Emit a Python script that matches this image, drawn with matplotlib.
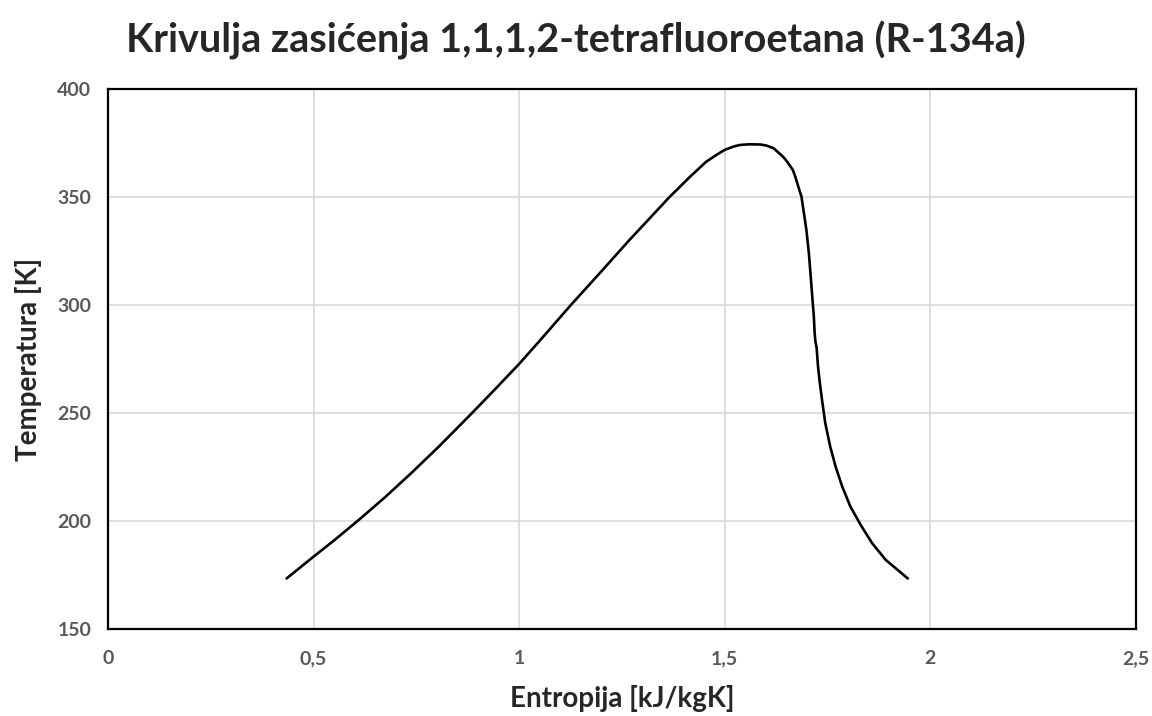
import matplotlib.pyplot as plt
from matplotlib.ticker import FuncFormatter

# zasićena kapljevina (lijeva grana) i para (desna grana), očitano s grafa
s_liquid = [0.435, 0.50, 0.553, 0.61, 0.675, 0.74, 0.805, 0.882, 0.942, 1.0,
            1.036, 1.066, 1.126, 1.196, 1.268, 1.318, 1.366, 1.416, 1.455, 1.481,
            1.50, 1.521, 1.537, 1.561]
T_liquid = [173.5, 183.5, 191.5, 200.5, 211.2, 222.6, 234.5, 249.3, 261.1, 272.7,
            280.4, 286.9, 300.0, 314.7, 330.0, 340.2, 350.0, 359.4, 366.3, 369.6,
            371.8, 373.3, 374.1, 374.4]

s_vapor = [1.587, 1.602, 1.619, 1.642, 1.652, 1.666, 1.672, 1.683, 1.687, 1.699,
           1.705, 1.710, 1.714, 1.717, 1.719, 1.721, 1.724, 1.727, 1.731, 1.737,
           1.745, 1.757, 1.770, 1.786, 1.806, 1.831, 1.859, 1.892, 1.945]
T_vapor = [374.3, 373.8, 372.6, 368.7, 366.4, 362.5, 359.4, 352.5, 350.2, 334.7,
           324.0, 312.0, 302.0, 295.0, 287.0, 283.0, 280.0, 272.0, 265.0, 256.0,
           245.2, 234.4, 225.2, 216.0, 206.7, 198.2, 189.7, 182.0, 173.5]

x_ticks = [0, 0.5, 1, 1.5, 2, 2.5]
y_ticks = [150, 200, 250, 300, 350, 400]

plt.rcParams['font.family'] = ['Lato', 'DejaVu Sans']

fig = plt.figure(figsize=(11.52, 7.16), dpi=100)
ax = fig.add_axes([0.0938, 0.1215, 0.892, 0.7542])

s = s_liquid + s_vapor
T = T_liquid + T_vapor
ax.plot(s, T, color="black", linewidth=1.9, solid_joinstyle="round")

ax.set_xlim(0, 2.5)
ax.set_ylim(150, 400)
ax.set_xticks(x_ticks)
ax.set_yticks(y_ticks)
ax.xaxis.set_major_formatter(FuncFormatter(lambda v, p: ("%g" % v).replace(".", ",")))
ax.grid(True, color="#d9d9d9", linewidth=1.2)
ax.set_axisbelow(True)
ax.tick_params(length=0, labelsize=14, labelcolor="#595959")
ax.tick_params(axis="x", pad=15)
ax.tick_params(axis="y", pad=12)
for lab in ax.get_xticklabels() + ax.get_yticklabels():
    lab.set_fontweight("bold")
for sp in ax.spines.values():
    sp.set_linewidth(1.6)
    sp.set_color("black")

fig.text(0.5, 1 - 40 / 716, "Krivulja zasićenja 1,1,1,2-tetrafluoroetana (R-134a)",
         ha="center", va="center", fontsize=28.5, fontweight="bold", color="#262626")
ax.set_xlabel("Entropija [kJ/kgK]", fontsize=20, fontweight="bold", color="#262626")
ax.set_ylabel("Temperatura [K]", fontsize=20, fontweight="bold", color="#262626")
ax.xaxis.set_label_coords(0.5, -0.103)
ax.yaxis.set_label_coords(-0.064, 0.5)

fig.savefig("out.png", dpi=100)
